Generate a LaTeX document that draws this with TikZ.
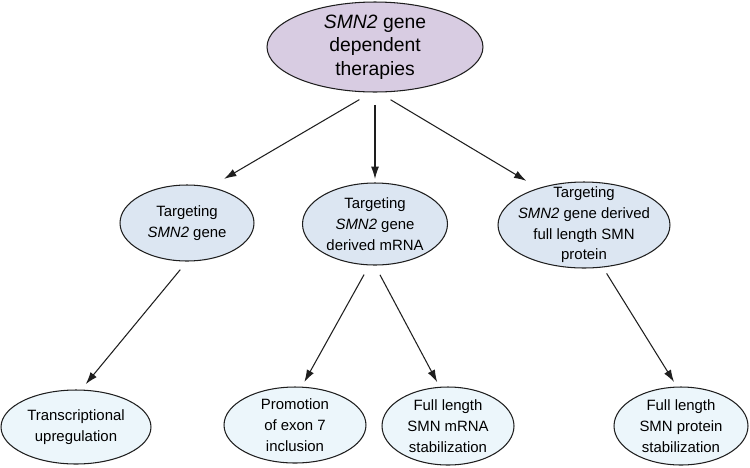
\documentclass[tikz,border=0pt]{standalone}
\usepackage{fontspec}
\setmainfont{Liberation Sans}
\usetikzlibrary{shapes.geometric, arrows.meta, positioning}
\definecolor{smnlavender}{RGB}{216, 204, 226}
\definecolor{smnblue}{RGB}{220, 230, 242}
\definecolor{smnpale}{RGB}{236, 246, 251}
\definecolor{smnline}{RGB}{30, 30, 30}

\begin{document}
\begin{tikzpicture}[
    x=0.02cm, y=-0.02cm,
    bubble/.style={
        ellipse,
        draw=smnline,
        line width=0.6pt,
        inner sep=0pt
    },
    toplevel/.style={
        bubble,
        fill=smnlavender
    },
    midlevel/.style={
        bubble,
        fill=smnblue
    },
    lowlevel/.style={
        bubble,
        fill=smnpale
    },
    mylabel/.style={
        font=\fontsize{8.5}{11.8}\selectfont,
        align=center,
        text=black
    },
    toplabel/.style={
        font=\fontsize{11}{13.5}\selectfont,
        align=center,
        text=black
    },
    link/.style={
        -{Latex[length=7pt, width=4.5pt]},
        line width=0.6pt,
        draw=smnline
    }
]

\useasboundingbox (0,0) rectangle (750,467);

% Top node
\node[toplevel, minimum width=4.32cm, minimum height=1.8cm] (therapies) at (375,47) {};
\node[toplabel] at (therapies) {\textit{SMN2} gene\\dependent\\therapies};

% Middle level
\node[midlevel, minimum width=2.68cm, minimum height=1.52cm] (gene) at (187,223) {};
\node[midlevel, minimum width=2.9cm, minimum height=1.64cm] (mrna) at (375,224) {};
\node[midlevel, minimum width=3.44cm, minimum height=1.72cm] (protein) at (584,225) {};

\node[mylabel] at (gene) {Targeting\\\textit{SMN2} gene};
\node[mylabel] at (mrna) {Targeting\\\textit{SMN2} gene\\derived mRNA};
\node[mylabel] at (protein) {Targeting\\\textit{SMN2} gene derived\\full length SMN\\protein};

% Bottom level
\node[lowlevel, minimum width=3.0cm, minimum height=1.48cm] (transcr) at (76,427) {};
\node[lowlevel, minimum width=2.84cm, minimum height=1.52cm] (exon) at (295,425) {};
\node[lowlevel, minimum width=2.64cm, minimum height=1.56cm] (mrnastab) at (448,426) {};
\node[lowlevel, minimum width=2.68cm, minimum height=1.56cm] (protstab) at (681,426) {};

\node[mylabel] at (transcr) {Transcriptional\\upregulation};
\node[mylabel] at (exon) {Promotion\\of exon 7\\inclusion};
\node[mylabel] at (mrnastab) {Full length\\SMN mRNA\\stabilization};
\node[mylabel] at (protstab) {Full length\\SMN protein\\stabilization};

% Arrows
\draw[link, shorten <=8pt, shorten >=9pt] ([xshift=-2pt]therapies.south) -- (gene.57);
\draw[link, shorten <=7pt, shorten >=2pt] (therapies.south) -- (mrna.north);
\draw[link, shorten <=8pt, shorten >=8pt] ([xshift=2pt]therapies.south) -- (protein.141);

\draw[link, shorten <=6pt, shorten >=4pt] (gene.south) -- (transcr.82);
\draw[link, shorten <=6pt, shorten >=3pt] (mrna.262) -- (exon.80);
\draw[link, shorten <=6pt, shorten >=3pt] (mrna.south) -- (mrnastab.102);
\draw[link, shorten <=4pt, shorten >=3pt] (protein.-66) -- (protstab.96);

\end{tikzpicture}
\end{document}
